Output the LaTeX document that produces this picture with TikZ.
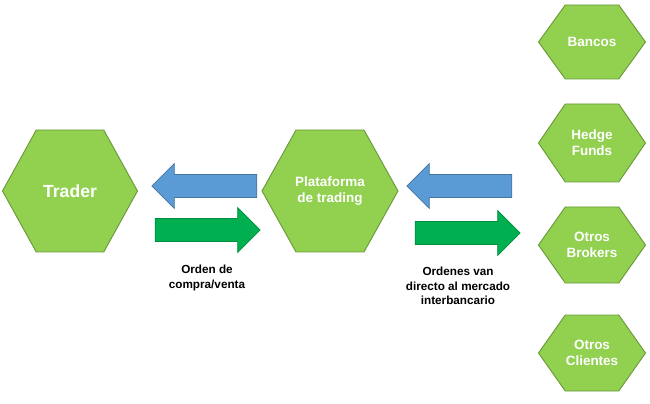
\documentclass[tikz,border=0pt]{standalone}
\usepackage{fontspec}
\setmainfont{Liberation Sans}
\usetikzlibrary{shapes.arrows}
\definecolor{hexfill}{HTML}{92D050}
\definecolor{hexline}{HTML}{6A9A3A}
\definecolor{bluearr}{HTML}{5B9BD5}
\definecolor{greenarr}{HTML}{00B050}
% hexagon: name, x, y, width, height, text
\newcommand{\hexbox}[6]{%
  \draw[hex] (#2-#4/2,#3) -- (#2-#4/4,#3-#5/2) -- (#2+#4/4,#3-#5/2) -- (#2+#4/2,#3)
    -- (#2+#4/4,#3+#5/2) -- (#2-#4/4,#3+#5/2) -- cycle;
  \node[hextext] (#1) at (#2,#3) {#6};}
\tikzset{
  hex/.style={fill=hexfill, draw=hexline, line width=0.8pt},
  hextext/.style={text=white, font=\bfseries\fontsize{11.5}{13.5}\selectfont, align=center},
  arr/.style={single arrow, minimum width=1.35cm, single arrow head extend=0.33cm,
    minimum height=3.15cm, inner xsep=0pt, inner ysep=0.33cm, line width=0.6pt},
  caption/.style={font=\bfseries\fontsize{10}{12.5}\selectfont, align=center}
}
\begin{document}
\begin{tikzpicture}[x=0.03cm, y=-0.03cm]
  \useasboundingbox (0,0) rectangle (650,404);
  \hexbox{trader}{70}{191}{135}{122}{\fontsize{15}{18}\selectfont Trader}
  \hexbox{plat}{330}{191}{136}{122}{Plataforma\\de trading}
  \hexbox{bancos}{592}{42}{107}{74}{Bancos}
  \hexbox{hedge}{592}{143}{107}{78}{Hedge\\Funds}
  \hexbox{brokers}{592}{245}{107}{76}{Otros\\Brokers}
  \hexbox{clientes}{592}{353}{107}{76}{Otros\\Clientes}

  \node[arr, fill=bluearr, draw=bluearr!75!black, shape border rotate=180] (back1) at (210,186) {};
  \node[arr, fill=greenarr, draw=greenarr!80!black] (fwd1) at (202,230) {};
  \node[arr, fill=bluearr, draw=bluearr!75!black, shape border rotate=180] (back2) at (465,186) {};
  \node[arr, fill=greenarr, draw=greenarr!80!black] (fwd2) at (462,233) {};

  \node[caption] (cap1) at (207,278) {Orden de\\compra/venta};
  \node[caption] (cap2) at (458,286) {Ordenes van\\directo al mercado\\interbancario};
\end{tikzpicture}
\end{document}
